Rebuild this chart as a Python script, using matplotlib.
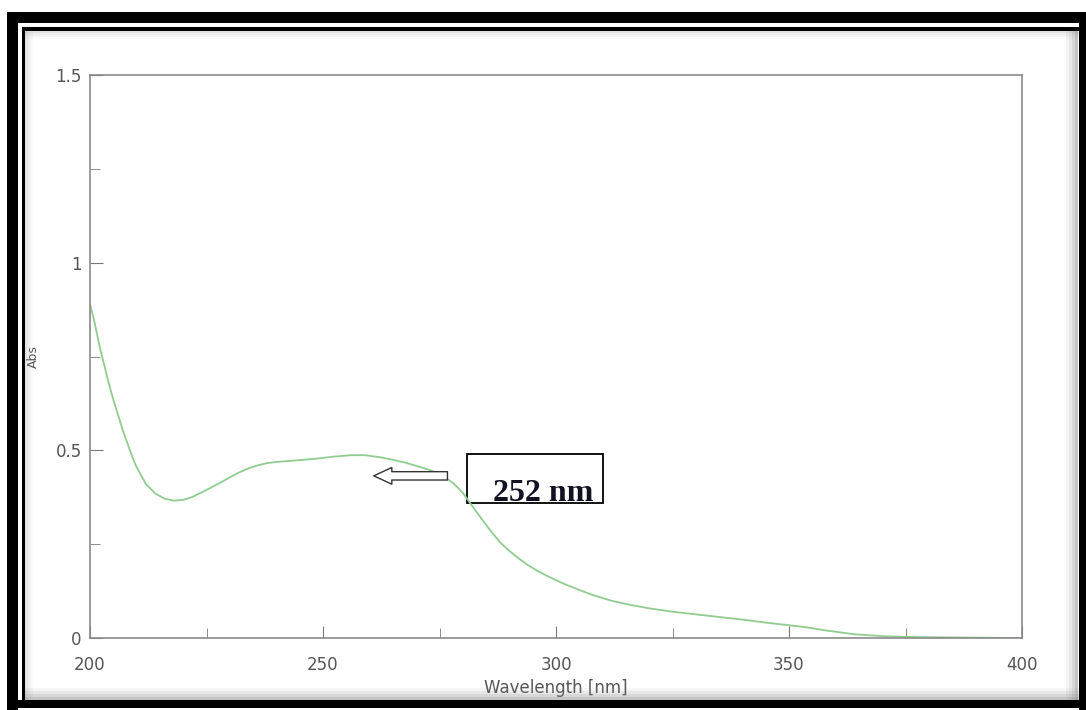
import matplotlib.pyplot as plt
from matplotlib.patches import Rectangle

# spectrum
wavelength = [200, 201, 202, 203, 204, 205, 206, 207, 208, 209, 210, 212, 214, 216, 218,
              220, 222, 224, 226, 228, 230, 232, 234, 236, 238, 240, 244, 248, 252, 256,
              259, 262, 265, 268, 271, 274, 276, 278, 280, 282, 284, 286, 288, 290, 292,
              294, 296, 298, 300, 302, 305, 308, 312, 316, 320, 325, 330, 335, 340, 345,
              350, 354, 358, 364, 370, 375, 380, 390, 400]
absorb = [0.89, 0.84, 0.78, 0.73, 0.68, 0.635, 0.595, 0.555, 0.52, 0.485, 0.455, 0.41, 0.385,
          0.371, 0.366, 0.368, 0.376, 0.388, 0.401, 0.414, 0.428, 0.441, 0.452, 0.46, 0.466,
          0.469, 0.473, 0.477, 0.483, 0.487, 0.487, 0.482, 0.475, 0.466, 0.455, 0.443, 0.43,
          0.412, 0.387, 0.352, 0.318, 0.285, 0.255, 0.232, 0.212, 0.194, 0.179, 0.166, 0.154,
          0.143, 0.128, 0.114, 0.099, 0.088, 0.079, 0.07, 0.063, 0.056, 0.049, 0.041, 0.034,
          0.028, 0.02, 0.01, 0.005, 0.003, 0.002, 0.001, 0.0]

x_ticks = [200, 250, 300, 350, 400]
y_ticks = [0, 0.5, 1, 1.5]
y_tick_labels = ['0', '0.5', '1', '1.5']
peak_label = '252 nm'

W, H = 1086, 710
fig = plt.figure(figsize=(W / 100, H / 100), dpi=100)


def box(x0, y0, x1, y1, **kw):
    # rectangle given in picture pixels (origin top-left)
    fig.patches.append(Rectangle((x0 / W, (H - y1) / H), (x1 - x0) / W, (y1 - y0) / H,
                                 transform=fig.transFigure, **kw))


# soft inner shadow of the frame
for i, a in enumerate([0.45, 0.3, 0.18, 0.08]):
    box(1075 - i * 3, 31, 1078 - i * 3, 700, fc='gray', ec='none', alpha=a)
    box(25, 697 - i * 3, 1079, 700 - i * 3, fc='gray', ec='none', alpha=a)
    box(25, 31 + i * 2, 1079, 33 + i * 2, fc='gray', ec='none', alpha=a * 0.5)
    box(25 + i * 2, 31, 27 + i * 2, 700, fc='gray', ec='none', alpha=a * 0.5)

# black frame
box(7, 12, 18, H, fc='black', ec='none')
box(7, 12, W, 23, fc='black', ec='none')
box(1079, 12, W, H, fc='black', ec='none')
box(18, 700, W, 708, fc='black', ec='none')
box(22, 27, 1079, 31, fc='black', ec='none')
box(22, 27, 25, 700, fc='black', ec='none')

ax = fig.add_axes([90 / W, (H - 638) / H, 932 / W, 563 / H])
ax.plot(wavelength, absorb, color='#90cc90', lw=1.3)

ax.set_xlim(200, 400)
ax.set_ylim(0, 1.5)
ax.set_xticks(x_ticks)
ax.set_xticklabels([str(t) for t in x_ticks])
ax.set_yticks(y_ticks)
ax.set_yticklabels(y_tick_labels)
ax.set_xticks([225, 275, 325, 375], minor=True)
ax.set_yticks([0.25, 0.75, 1.25], minor=True)

for s in ax.spines.values():
    s.set_color('#8a8a8a')
    s.set_linewidth(1.2)
ax.tick_params(which='both', direction='in', color='#777777', labelcolor='#555555',
               labelsize=12)
ax.tick_params(axis='x', which='major', length=9, pad=13)
ax.tick_params(axis='y', which='major', length=9, pad=6)
ax.tick_params(which='minor', length=7)

ax.set_xlabel('Wavelength [nm]', fontsize=12, color='#555555')
ax.xaxis.set_label_coords(0.5, -0.073)
ax.set_ylabel('Abs', fontsize=9, color='#555555')
ax.yaxis.set_label_coords(-0.054, 0.5)

# peak marker box and arrow
ax.add_patch(Rectangle((280.9, 0.36), 29.2, 0.131, fill=False, ec='black', lw=1.3))
ax.text(286.5, 0.366, peak_label, fontsize=23, fontweight='bold', va='baseline',
        family='Liberation Serif', color='#111122')
ax.annotate('', xy=(260.3, 0.432), xytext=(277.3, 0.432),
            arrowprops=dict(arrowstyle='simple,head_length=1.3,head_width=1.2,tail_width=0.6',
                            fc='white', ec='#333333', lw=1))

fig.savefig('out.png', dpi=100)
